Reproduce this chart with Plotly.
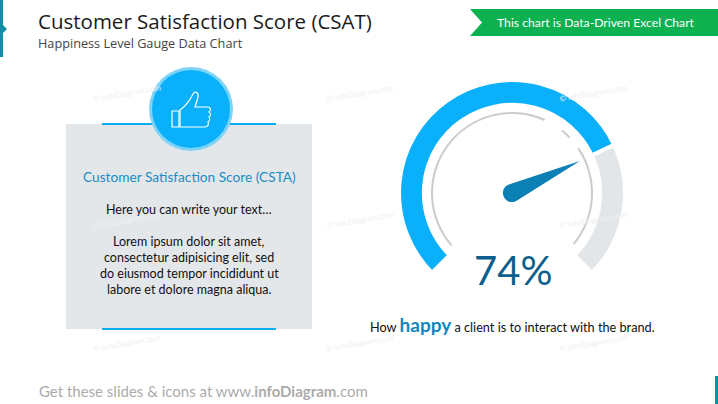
import math
import plotly.graph_objects as go

# gauge data
gauge_value = 74
gauge_rest = 100 - gauge_value
gauge_hidden = 100 / 3  # the open quarter at the bottom
gauge_sweep = 270
gauge_start = 225

# thin inner ring, in degrees clockwise from where it starts
ring_spans = [155, 14.6, 7.4, 9.8, 73.8, 99.2]
ring_colors = ['#C9CCD0', 'rgba(0,0,0,0)', '#C9CCD0', 'rgba(0,0,0,0)', '#C9CCD0', 'rgba(0,0,0,0)']

title = 'Customer Satisfaction Score (CSAT)'
subtitle = 'Happiness Level Gauge Data Chart'
banner = 'This chart is Data-Driven Excel Chart'
box_title = 'Customer Satisfaction Score (CSTA)'
body_lines = ['Here you can write your text…', 'Lorem ipsum dolor sit amet,',
              'consectetur adipisicing elit, sed', 'do eiusmod tempor incididunt ut',
              'labore et dolore magna aliqua.']
body_y = [209, 241, 257, 273, 289]
wm_x = [127, 360, 593]
wm_y = [93, 220, 343]

W, H = 718, 404
cx, cy = 512, 193


def dom(r):
    return dict(x=[(cx - r) / W, (cx + r) / W], y=[1 - (cy + r) / H, 1 - (cy - r) / H])


fig = go.Figure()

fig.add_trace(go.Pie(values=[gauge_value, gauge_rest, gauge_hidden], sort=False, direction='clockwise',
                     rotation=gauge_start, hole=0.78, domain=dom(113), textinfo='none', hoverinfo='skip',
                     showlegend=False,
                     marker=dict(colors=['#0BB0FA', '#E3E6E9', 'rgba(0,0,0,0)'],
                                 line=dict(color='white', width=4))))
fig.add_trace(go.Pie(values=ring_spans, sort=False, direction='clockwise', rotation=229, hole=0.975,
                     domain=dom(81), textinfo='none', hoverinfo='skip', showlegend=False,
                     marker=dict(colors=ring_colors, line=dict(width=0))))

fig.add_trace(go.Scatter(x=[0, W], y=[0, H], mode='markers', marker=dict(opacity=0), hoverinfo='skip',
                         showlegend=False))


def rect(x0, y0, x1, y1, color):
    return dict(type='rect', x0=x0, y0=y0, x1=x1, y1=y1, fillcolor=color, line_width=0, layer='above')


def circle(x, y, r, color):
    return dict(type='circle', x0=x - r, y0=y - r, x1=x + r, y1=y + r, fillcolor=color, line_width=0, layer='above')


# needle points where the value falls on the gauge
ang = math.radians(-135 + gauge_sweep * gauge_value / 100)
ux, uy = math.sin(ang), -math.cos(ang)
nx, ny = -uy, ux
tip = (cx + ux * 75, cy + uy * 75)
r_base = 9
bk = r_base * 4 / 3
a = (cx + nx * r_base, cy + ny * r_base)
b = (cx - nx * r_base, cy - ny * r_base)
# shape paths have no arc command, so the round base is a cubic
needle = (f'M {a[0]} {a[1]} C {a[0] - ux * bk} {a[1] - uy * bk} {b[0] - ux * bk} {b[1] - uy * bk} {b[0]} {b[1]} '
          f'L {tip[0]} {tip[1]} Z')

thumb = ('M 180 127 L 180 110 C 186 106 190 100 193 94 C 195 90 199 93 198 97 '
         'C 197 101 196 104 195 107 L 208 107 C 211 107 211 111 209 112 C 211 113 211 116 209 117 '
         'C 210 118 210 121 208 122 C 209 124 208 127 205 127 Z')

shapes = [
    rect(0, 0, 3, 57, '#0E8FA6'),
    dict(type='path', path='M 3 25 L 7 29 L 3 33 Z', fillcolor='#0E8FA6', line_width=0, layer='above'),
    rect(715, 376, 718, 404, '#0E8FA6'),
    dict(type='path', path='M 470 9 L 718 9 L 718 36 L 470 36 L 482 22.5 Z', fillcolor='#0DB14F', line_width=0,
         layer='above'),
    rect(66, 124, 312, 329, '#E4E7EA'),
    rect(102, 123, 276, 125, '#0BADF0'),
    rect(102, 328, 276, 330, '#0BADF0'),
    circle(191, 109, 42, '#7ED3F8'),
    circle(191, 109, 39, '#0BB0FA'),
    dict(type='rect', x0=172, y0=111, x1=179, y1=127, line=dict(color='white', width=1.2), layer='above'),
    dict(type='path', path=thumb, line=dict(color='white', width=1.2), layer='above'),
    dict(type='path', path=needle, fillcolor='#0A80B5', line_width=0, layer='above'),
]
for k in shapes:
    k.update(xref='x', yref='y')

annots = []


def txt(x, y, s, size, color, family='Lato', anchor='center', angle=0):
    annots.append(dict(x=x, y=y, text=s, xref='x', yref='y', showarrow=False, xanchor=anchor, yanchor='middle',
                       textangle=angle, font=dict(family=family, size=size, color=color)))


for wx in wm_x:
    for wy in wm_y:
        txt(wx, wy, '© infoDiagram.com', 8, '#F0F0F0', angle=-10)
txt(35.5, 21, title, 20.5, '#1A1A1A', family='Open Sans', anchor='left')
txt(36, 43, subtitle, 12.7, '#444444', family='Open Sans', anchor='left')
txt(595.5, 22.5, banner, 12.2, 'white')
txt(189, 176, box_title, 13.7, '#1A8CC6')
for s, y in zip(body_lines, body_y):
    txt(189, y, s, 12.5, '#111111')
txt(513, 270, f'{gauge_value}%', 40, '#0A5F8C')
txt(512, 324, 'How <b style="font-size:19px;color:#1287BF">happy</b> a client is to interact with the brand.',
    12.7, '#111111')
txt(37, 391, 'Get these slides &amp; icons at www.<b>infoDiagram</b>.com', 15, '#ABABAB', anchor='left')

fig.update_layout(width=W, height=H, margin=dict(l=0, r=0, t=0, b=0), paper_bgcolor='white', plot_bgcolor='white',
                  shapes=shapes, annotations=annots, showlegend=False,
                  xaxis=dict(range=[0, W], visible=False, domain=[0, 1]),
                  yaxis=dict(range=[H, 0], visible=False, domain=[0, 1]))

# the page's default body margin would push the slide 8px off
fig.write_html('out.html', config=dict(displayModeBar=False),
               post_script="document.body.style.margin='0';document.body.style.overflow='hidden';")
